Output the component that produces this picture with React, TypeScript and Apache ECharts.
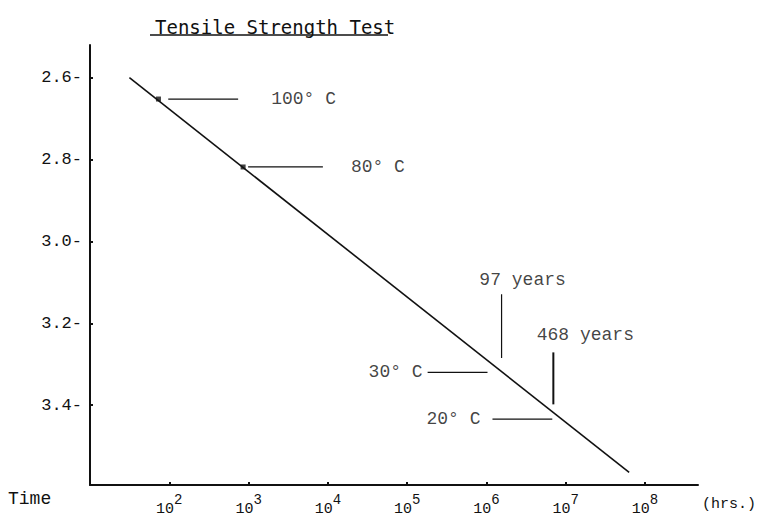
import React, { useEffect, useRef } from "react";
import * as echarts from "echarts";

// Regression line of the tensile strength test (time in hours, strength value)
const lineHours = [31.4, 6.3e7];
const lineStrength = [2.6, 3.564];

// Measured test points (dots)
const testHours = [73, 853];
const testStrength = [2.652, 2.818];

// Temperature annotations: horizontal leader lines
const tempLabels = ["100° C", "80° C", "30° C", "20° C"];
const tempLevel = [2.652, 2.818, 3.32, 3.434];
const tempLeaderStart = [97, 986, 1.81e5, 1.19e6];
const tempLeaderEnd = [738, 8650, 1.03e6, 6.76e6];

// Lifetime annotations: vertical leader lines
const durationLabels = ["97 years", "468 years"];
const durationHours = [1.55e6, 6.97e6];
const durationTop = [3.129, 3.271];
const durationBottom = [3.285, 3.398];

// Axis ticks
const strengthTicks = [2.6, 2.8, 3.0, 3.2, 3.4];
const timeMin = 10;
const timeMax = 4.65e8;
const strengthMin = 2.52;
const strengthMax = 3.595;

const MONO = "'Liberation Mono', 'DejaVu Sans Mono', monospace";
const INK = "#111111";

export default function App() {
  const ref = useRef<HTMLDivElement>(null);

  useEffect(() => {
    if (!ref.current) return;
    const chart = echarts.init(ref.current, null, { renderer: "svg" });

    const leaderSeries = tempLabels.map((name, i) => ({
      type: "line",
      name: name + " leader",
      silent: true,
      symbol: "none",
      lineStyle: { color: INK, width: 1.2 },
      data: [
        [tempLeaderStart[i], tempLevel[i]],
        [tempLeaderEnd[i], tempLevel[i]],
      ],
      z: 3,
    }));

    const durationSeries = durationLabels.map((name, i) => ({
      type: "line",
      name: name + " leader",
      silent: true,
      symbol: "none",
      lineStyle: { color: INK, width: i === 1 ? 2 : 1.2 },
      data: [
        [durationHours[i], durationTop[i]],
        [durationHours[i], durationBottom[i]],
      ],
      z: 3,
    }));

    const tempSide = ["right", "right", "left", "left"];
    const tempDist = [33, 28, 5, 12];
    const tempLabelData = tempLabels.map((name, i) => ({
      value: [tempSide[i] === "right" ? tempLeaderEnd[i] : tempLeaderStart[i], tempLevel[i]],
      label: {
        show: true,
        formatter: name,
        position: tempSide[i],
        distance: tempDist[i],
        fontFamily: MONO,
        fontSize: 18,
        color: INK,
      },
    }));

    const durOffset = [
      [21, 0],
      [32, 0],
    ];
    const durDist = [5, 8];
    const durLabelData = durationLabels.map((name, i) => ({
      value: [durationHours[i], durationTop[i]],
      label: {
        show: true,
        formatter: name,
        position: "top",
        distance: durDist[i],
        offset: durOffset[i],
        fontFamily: MONO,
        fontSize: 18,
        color: INK,
      },
    }));

    const option: any = {
      animation: false,
      backgroundColor: "#ffffff",
      title: {
        text: "Tensile Strength Test",
        left: 150,
        top: 12,
        textStyle: {
          fontFamily: "'DejaVu Sans Mono', monospace",
          fontSize: 19,
          fontWeight: "normal",
          color: INK,
        },
      },
      graphic: [
        {
          type: "line",
          shape: { x1: 150, y1: 35, x2: 388, y2: 35 },
          style: { stroke: INK, lineWidth: 1.5 },
        },
        {
          type: "text",
          left: 8,
          top: 490,
          style: { text: "Time", font: `18px ${MONO}`, fill: INK },
        },
      ],
      grid: { left: 90, right: 69, top: 45, bottom: 32, containLabel: false },
      xAxis: {
        type: "log",
        logBase: 10,
        min: timeMin,
        max: timeMax,
        name: "(hrs.)",
        nameLocation: "end",
        nameGap: 4,
        nameTextStyle: {
          fontFamily: MONO,
          fontSize: 15,
          color: INK,
          verticalAlign: "top",
          padding: [12, 0, 0, 0],
        },
        axisLine: { show: true, lineStyle: { color: INK, width: 2 } },
        axisTick: { show: true, inside: true, length: 3, lineStyle: { color: INK, width: 2 } },
        minorTick: { show: false },
        splitLine: { show: false },
        axisLabel: {
          margin: 8,
          showMinLabel: false,
          showMaxLabel: false,
          color: INK,
          formatter: (v: number) => {
            const e = Math.log10(v);
            const r = Math.round(e);
            if (Math.abs(e - r) > 1e-6 || r < 2) return "";
            return `{b|10}{s|${r}}`;
          },
          rich: {
            b: { fontFamily: MONO, fontSize: 15, lineHeight: 24, verticalAlign: "bottom", color: INK },
            s: { fontFamily: MONO, fontSize: 14, lineHeight: 24, verticalAlign: "top", color: INK },
          },
        },
      },
      yAxis: {
        type: "value",
        inverse: true,
        min: strengthMin,
        max: strengthMax,
        axisLine: { show: true, lineStyle: { color: INK, width: 2 } },
        axisTick: {
          show: true,
          inside: true,
          length: 3,
          customValues: strengthTicks,
          lineStyle: { color: INK, width: 2 },
        },
        splitLine: { show: false },
        axisLabel: {
          customValues: strengthTicks,
          margin: 8,
          fontFamily: MONO,
          fontSize: 17,
          color: INK,
          padding: [0, 0, 7, 0],
          formatter: (v: number) => v.toFixed(1) + "-",
        },
      },
      series: [
        {
          type: "line",
          name: "Tensile strength",
          symbol: "none",
          lineStyle: { color: INK, width: 1.6 },
          data: lineHours.map((h, i) => [h, lineStrength[i]]),
          z: 4,
        },
        {
          type: "scatter",
          name: "Test points",
          symbol: "rect",
          symbolSize: 5,
          itemStyle: { color: INK },
          data: testHours.map((h, i) => [h, testStrength[i]]),
          z: 5,
        },
        ...leaderSeries,
        ...durationSeries,
        {
          type: "scatter",
          name: "Temperature labels",
          symbolSize: 0,
          silent: true,
          data: tempLabelData,
        },
        {
          type: "scatter",
          name: "Lifetime labels",
          symbolSize: 0,
          silent: true,
          data: durLabelData,
        },
      ],
    };

    chart.setOption(option);
    return () => chart.dispose();
  }, []);

  return <div ref={ref} style={{ width: 767, height: 517, position: "absolute", left: 0, top: 0 }} />;
}
